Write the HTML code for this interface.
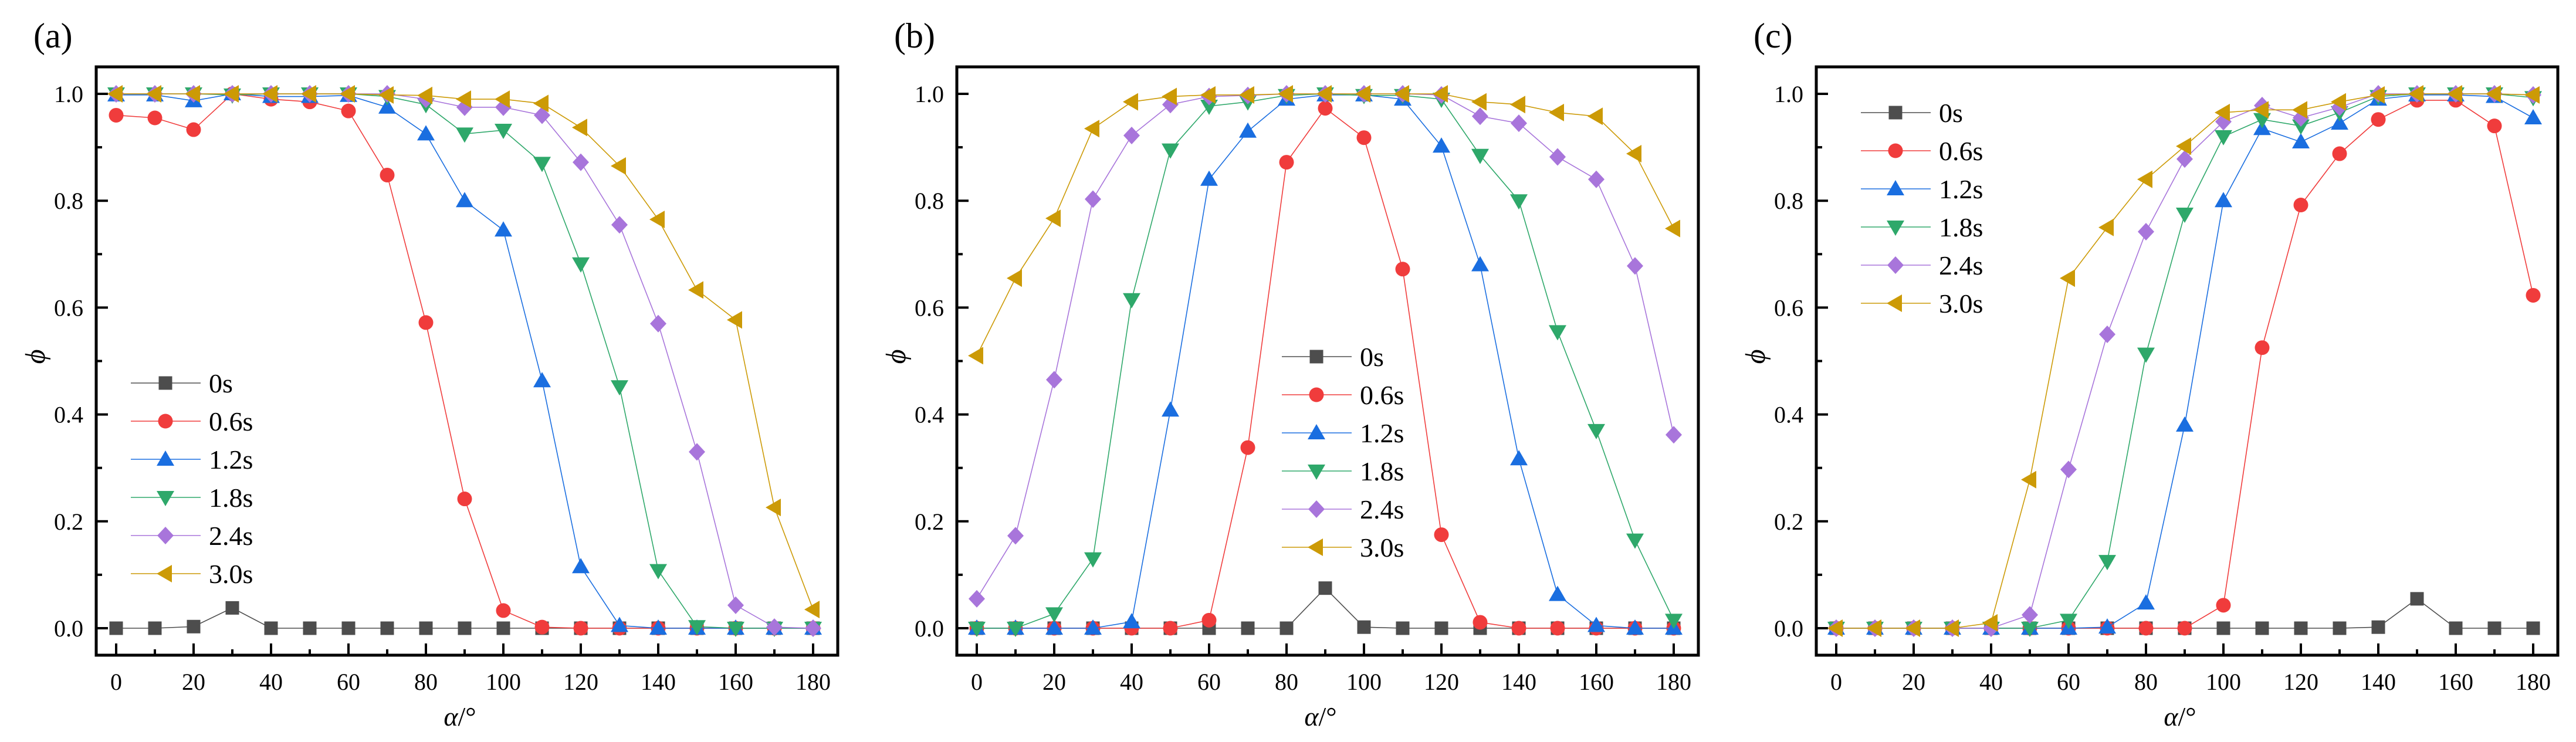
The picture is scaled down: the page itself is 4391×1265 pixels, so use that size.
<!DOCTYPE html>
<html><head><meta charset="utf-8"><style>
html,body{margin:0;padding:0;background:#fff;}
svg{display:block;font-family:"Liberation Serif",serif;}
</style></head><body>
<svg id="chart" width="4391" height="1265" viewBox="0 0 4391 1265" xmlns="http://www.w3.org/2000/svg"></svg>
<script>
const angles = [0,10,20,30,40,50,60,70,80,90,100,110,120,130,140,150,160,170,180];
const seriesNames = ["0s","0.6s","1.2s","1.8s","2.4s","3.0s"];
const xTicks = [0,20,40,60,80,100,120,140,160,180];
const yTicks = [0,0.2,0.4,0.6,0.8,1.0];
const yTickLabels = ["0.0","0.2","0.4","0.6","0.8","1.0"];
const panelLabels = ["(a)","(b)","(c)"];

const a0s  = [0,0,0.003,0.038,0,0,0,0,0,0,0,0,0,0,0,0,0,0,0];
const a06s = [0.96,0.955,0.933,1.0,0.99,0.985,0.968,0.848,0.572,0.242,0.033,0.002,0,0,0,0,0,0,0];
const a12s = [0.998,0.998,0.987,1.0,0.995,0.995,0.997,0.975,0.925,0.8,0.745,0.463,0.115,0.005,0,0,0,0,0];
const a18s = [1,1,1,0.998,1,1,1,0.995,0.98,0.925,0.932,0.87,0.682,0.452,0.108,0.003,0,0,0];
const a24s = [1,1,1,1,1,1,1,1,0.99,0.975,0.975,0.96,0.872,0.755,0.57,0.33,0.043,0.002,0];
const a30s = [1,1,1,1,1,1,1,0.998,0.997,0.99,0.99,0.982,0.937,0.865,0.765,0.633,0.577,0.226,0.035];

const b0s  = [0,0,0,0,0,0,0,0,0,0.075,0.002,0,0,0,0,0,0,0,0];
const b06s = [0,0,0,0,0,0,0.015,0.338,0.872,0.973,0.918,0.672,0.175,0.011,0,0,0,0,0];
const b12s = [0,0,0,0,0.012,0.408,0.84,0.93,0.99,0.998,0.998,0.99,0.902,0.68,0.317,0.063,0.005,0,0];
const b18s = [0,0,0.027,0.13,0.615,0.895,0.977,0.985,0.997,1,0.997,0.997,0.99,0.885,0.8,0.555,0.37,0.165,0.015];
const b24s = [0.055,0.173,0.465,0.803,0.922,0.98,0.995,0.997,1,1,1,1,0.998,0.958,0.945,0.882,0.84,0.678,0.362];
const b30s = [0.51,0.655,0.767,0.935,0.985,0.995,0.998,0.998,1,1,1,1,1,0.985,0.98,0.965,0.958,0.888,0.748];

const c0s  = [0,0,0,0,0,0,0,0,0,0,0,0,0,0,0.002,0.055,0,0,0];
const c06s = [0,0,0,0,0,0,0,0,0,0,0.043,0.525,0.792,0.888,0.952,0.988,0.988,0.94,0.623];
const c12s = [0,0,0,0,0,0,0,0.002,0.047,0.38,0.8,0.935,0.91,0.945,0.99,0.998,0.998,0.995,0.955];
const c18s = [0,0,0,0,0,0,0.015,0.125,0.513,0.775,0.92,0.952,0.94,0.965,0.995,1,1,1,0.993];
const c24s = [0,0,0,0,0,0.025,0.297,0.55,0.742,0.878,0.948,0.978,0.955,0.975,1,1,1,1,0.998];
const c30s = [0,0,0,0,0.01,0.278,0.655,0.75,0.84,0.902,0.965,0.97,0.97,0.985,0.998,1,1,1,0.998];

const panelData = [[a0s,a06s,a12s,a18s,a24s,a30s],[b0s,b06s,b12s,b18s,b24s,b30s],[c0s,c06s,c12s,c18s,c24s,c30s]];
const colors = ["#4d4d4d","#f03c3c","#1a6ee0","#2ea86a","#a875db","#cc9a06"];
const shapes = ["square","circle","up","down","diamond","left"];
const panelOffsets = [0,1467,2932];
const legendPos = [{x:223,y:653},{x:2185-1467,y:608},{x:3172-2932,y:192}];

const NS="http://www.w3.org/2000/svg";
const svg=document.getElementById('chart');
function mk(tag,attrs,parent){const e=document.createElementNS(NS,tag);for(const k in attrs)e.setAttribute(k,attrs[k]);(parent||svg).appendChild(e);return e;}

function marker(g,shape,x,y,color){
  let e;
  if(shape==="square") e=mk('rect',{x:x-11.5,y:y-11.5,width:23,height:23,fill:color},g);
  else if(shape==="circle") e=mk('circle',{cx:x,cy:y,r:12.5,fill:color},g);
  else {
    let p;
    if(shape==="up") p=[[x,y-15],[x+15,y+11],[x-15,y+11]];
    else if(shape==="down") p=[[x,y+15],[x+15,y-11],[x-15,y-11]];
    else if(shape==="diamond") p=[[x,y-15],[x+14,y],[x,y+15],[x-14,y]];
    else p=[[x-15,y],[x+11,y-15],[x+11,y+15]];
    e=mk('polygon',{points:p.map(q=>q.join(',')).join(' '),fill:color},g);
  }
  return e;
}

panelData.forEach((series,pi)=>{
  const ox=panelOffsets[pi];
  const L=164+ox,R=1428+ox,T=114,B=1117;
  const xs=v=>198+ox+v*6.6;
  const ys=v=>1071-v*911;
  const g=mk('g',{});
  
  
  for(let v=0;v<=180;v+=10){
    const major=v%20===0;
    const t=mk('line',{x1:xs(v),x2:xs(v),y1:B,y2:B-(major?20:10),stroke:'#000','stroke-width':4},g);
    
    
  }
  for(let i=0;i<=10;i++){
    const v=i/10;const major=i%2===0;
    const t=mk('line',{x1:L,x2:L+(major?20:10),y1:ys(v),y2:ys(v),stroke:'#000','stroke-width':4},g);
    
    
  }
  xTicks.forEach(v=>{
    const t=mk('text',{x:xs(v),y:1176,'font-size':40,'text-anchor':'middle'},g);
    t.textContent=v;
    
    
  });
  yTicks.forEach((v,i)=>{
    const t=mk('text',{x:L-22,y:ys(v)+14,'font-size':40,'text-anchor':'end'},g);
    t.textContent=yTickLabels[i];
    
    
  });
  series.forEach((vals,si)=>{
    const sg=mk('g',{},g);
    
    
    const pts=vals.map((v,i)=>xs(angles[i])+','+ys(v)).join(' ');
    const pl=mk('polyline',{points:pts,fill:'none',stroke:colors[si],'stroke-width':1.6},sg);
    
    
    vals.forEach((v,i)=>{
      const m=marker(sg,shapes[si],xs(angles[i]),ys(v),colors[si]);
      
      
    });
  });
  const fr=mk('rect',{x:L,y:T,width:R-L,height:B-T,fill:'none',stroke:'#000','stroke-width':5},g);
  
  
  const lg=mk('g',{},g);
  
  
  const lp=legendPos[pi];
  seriesNames.forEach((n,si)=>{
    const y=lp.y+si*65, x0=lp.x+ox;
    const eg=mk('g',{},lg);
    
    
    mk('line',{x1:x0,x2:x0+119,y1:y,y2:y,stroke:colors[si],'stroke-width':1.6},eg);
    marker(eg,shapes[si],x0+59,y,colors[si]);
    const t=mk('text',{x:x0+133,y:y+16,'font-size':46},eg);
    t.textContent=n;
  });
  const pl=mk('text',{x:L-107,y:81,'font-size':60},g);
  pl.textContent=panelLabels[pi];
  
  
  const xt=mk('text',{x:(L+R)/2-12,y:1237,'font-size':46,'text-anchor':'middle'},g);
  xt.innerHTML='<tspan font-style="italic">α</tspan>/°';
  
  
  const yt=mk('text',{x:0,y:0,'font-size':48,'font-style':'italic','text-anchor':'middle',transform:`translate(${L-88},${608}) rotate(-90)`},g);
  yt.textContent='ϕ';
  
  
});
</script>
</body></html>
